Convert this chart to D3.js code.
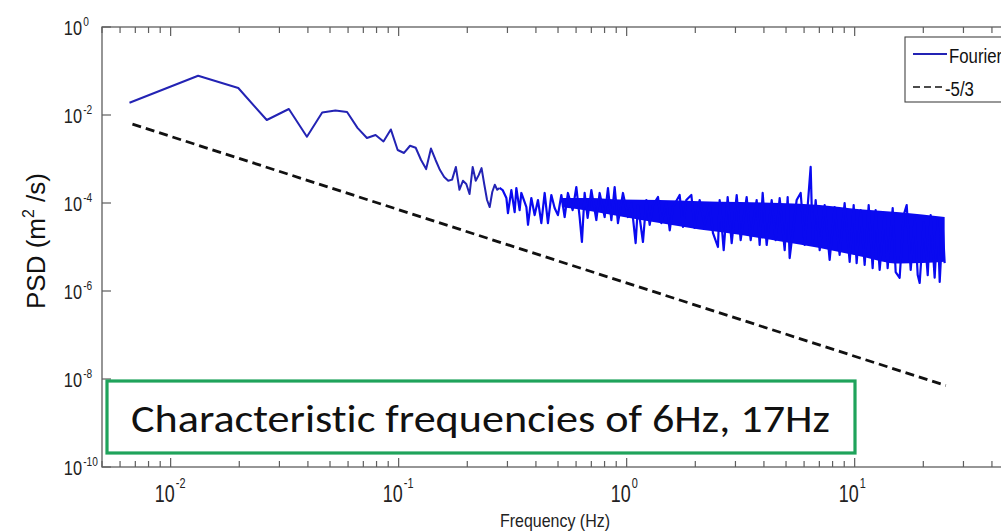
<!DOCTYPE html>
<html>
<head>
<meta charset="utf-8">
<script src="https://cdn.jsdelivr.net/npm/d3@7"></script>
<style>
body { margin: 0; background: #fff; }
svg { display: block; font-family: Arial, "Liberation Sans", sans-serif; }
</style>
</head>
<body>
<svg id="chart" width="1001" height="532"></svg>
<script>
"use strict";
(function(){

// Fourier spectrum (Hz, m^2/s)
var fourierFreq = [
  0.0066, 0.0132, 0.0198, 0.0264, 0.0330, 0.0396, 0.0462, 0.0528, 0.0594, 0.0660,
  0.0726, 0.0792, 0.0858, 0.0924, 0.0990, 0.1056, 0.1122, 0.1188, 0.1254, 0.1320,
  0.1386, 0.1452, 0.1518, 0.1584, 0.1650, 0.1716, 0.1782, 0.1848, 0.1914, 0.1980,
  0.2046, 0.2112, 0.2178, 0.2244, 0.2310, 0.2376, 0.2442, 0.2508, 0.2574, 0.2640,
  0.2706, 0.2772,
  0.2858, 0.2968, 0.3016, 0.3121, 0.3227, 0.3282, 0.3393, 0.3452, 0.3633, 0.3692,
  0.3819, 0.3949, 0.4083, 0.4225, 0.4369, 0.4516, 0.4674, 0.4832, 0.4996, 0.5170,
  0.5346, 0.5526, 0.5796, 0.6016, 0.6220, 0.6365, 0.6541, 0.6742, 0.7000, 0.7362,
  0.7612, 0.8007, 0.8279, 0.8568, 0.8858, 0.9158, 0.9634, 1.013, 1.049, 1.095,
  1.121, 1.179, 1.220, 1.262, 1.305, 1.372, 1.420, 1.494, 1.545, 1.596,
  1.708, 1.766, 1.827, 1.922, 1.987, 2.090, 2.198, 2.312, 2.390, 2.514,
  2.558, 2.664, 2.773, 2.888, 3.038, 3.162, 3.360, 3.499, 3.717, 3.831,
  3.949, 4.112, 4.325, 4.503, 4.689, 4.932, 5.083, 5.186, 5.567, 5.797,
  6.036, 6.412, 6.543, 6.744, 7.023, 7.385, 7.767, 8.168, 8.591, 9.035,
  9.508, 9.899, 10.20, 10.62, 11.06, 11.52, 11.99, 12.36, 12.87, 13.54,
  13.95, 14.68, 15.13, 15.75, 16.40, 16.91, 17.61, 18.34, 18.90, 19.28,
  20.08, 20.91, 21.54, 22.43, 23.12, 23.60, 24.32, 24.81
];
var fourierPsd = [
  1.9e-2, 7.8e-2, 4.1e-2, 7.7e-3, 1.37e-2, 3.2e-3, 1.14e-2, 1.26e-2, 1.17e-2, 5.1e-3,
  3.0e-3, 3.5e-3, 2.5e-3, 4.7e-3, 1.6e-3, 1.37e-3, 2.0e-3, 1.8e-3, 9.5e-4, 5.9e-4,
  1.73e-3, 9.5e-4, 5.6e-4, 3.9e-4, 3.2e-4, 3.4e-4, 6.6e-4, 2.0e-4, 3.2e-4, 2.7e-4,
  1.6e-4, 6.6e-4, 3.2e-4, 4.3e-4, 6.2e-4, 2.6e-4, 1.17e-4, 8.1e-5, 1.78e-4, 2.6e-4,
  2.0e-4, 2.2e-4,
  1.97e-4, 1.30e-4, 5.9e-5, 1.97e-4, 6.2e-5, 2.19e-4, 6.9e-5, 1.69e-4, 8.1e-5, 3.2e-5,
  1.30e-4, 5.3e-5, 1.17e-4, 3.5e-5, 1.69e-4, 3.5e-5, 1.52e-4, 7.7e-5, 5.3e-5, 1.52e-4,
  4.8e-5, 1.69e-4, 6.9e-5, 2.31e-4, 4.8e-5, 1.30e-5, 1.69e-4, 4.6e-5, 1.97e-4, 4.1e-5,
  1.69e-4, 4.8e-5, 2.19e-4, 4.1e-5, 2.31e-4, 3.5e-5, 1.69e-4, 4.8e-5, 1.0e-4, 1.23e-5,
  9.0e-5, 1.30e-5, 1.17e-4, 3.2e-5, 9.0e-5, 1.37e-4, 3.5e-5, 1.05e-4, 2.4e-5, 8.1e-5,
  1.52e-4, 2.85e-5, 1.17e-4, 1.52e-4, 2.7e-5, 1.17e-4, 3.2e-5, 9.0e-5, 2.1e-5, 1.0e-5,
  1.17e-4, 8.5e-6, 1.37e-4, 1.23e-5, 1.52e-4, 1.44e-5, 1.37e-4, 1.44e-5, 1.17e-4, 1.11e-5,
  1.69e-4, 1.11e-5, 1.17e-4, 1.44e-5, 1.30e-4, 8.5e-6, 1.37e-4, 5.6e-6, 1.17e-4, 1.69e-4,
  1.11e-5, 6.6e-4, 1.23e-5, 1.17e-4, 8.5e-6, 9.0e-5, 5.1e-6, 8.1e-5, 6.6e-6, 1.0e-4,
  4.6e-6, 9.0e-5, 4.3e-6, 6.9e-5, 3.9e-6, 9.0e-5, 3.3e-6, 6.9e-5, 3.0e-6, 5.9e-5,
  3.3e-6, 7.7e-5, 2.7e-6, 2.0e-6, 5.3e-5, 9.0e-5, 3.0e-6, 4.6e-5, 2.3e-6, 1.52e-6,
  3.7e-5, 2.3e-6, 5.3e-5, 2.0e-6, 4.1e-5, 1.6e-6, 3.2e-5, 4.3e-6
];
var sparseCount = 42; // points that are still drawn as a single thin trace

// the solid core of the dense part of the spectrum
var coreFreq = [0.52, 0.70, 0.9318, 1.395, 2.090, 3.130, 4.689, 7.023, 10.52, 15.75, 24.81];
var coreHi = [1.3e-4, 1.3e-4, 1.2e-4, 1.17e-4, 1.1e-4, 1.05e-4, 1.0e-4, 9.0e-5, 7.2e-5, 6.2e-5, 4.8e-5];
var coreLo = [8.0e-5, 6.5e-5, 5.0e-5, 3.5e-5, 2.5e-5, 1.9e-5, 1.35e-5, 9.5e-6, 6.2e-6, 4.2e-6, 4.6e-6];

// -5/3 reference line
var slopeFreq = [0.0068, 25.1];
var slopePsd = [6.2e-3, 7.1e-9];

var xTickExp = [-2, -1, 0, 1];
var yTickExp = [0, -2, -4, -6, -8, -10];
var legendNames = ['Fourier', '-5/3'];
var note = 'Characteristic frequencies  of 6Hz, 17Hz';

var left = 102, top = 27, right = 1010, bottom = 467;
var axisColor = '#5e5e5e';
var navy = '#2323b4';
var blue = '#0a0af0';

var x = d3.scaleLog().domain([0.005, 48]).range([left, right]);
var y = d3.scaleLog().domain([1e-10, 1]).range([bottom, top]);

var svg = d3.select('#chart');

svg.append('rect')
   .attr('width', 1001).attr('height', 532).attr('fill', '#fff');

svg.append('defs').append('clipPath').attr('id', 'plotclip')
   .append('rect')
   .attr('x', left).attr('y', top)
   .attr('width', right - left).attr('height', bottom - top);

var plot = svg.append('g').attr('clip-path', 'url(#plotclip)');

var line = d3.line()
    .x(function(d){ return x(d[0]); })
    .y(function(d){ return y(d[1]); });

// dense core
var core = coreFreq.map(function(f, i){ return [f, coreHi[i], coreLo[i]]; });
plot.append('path')
    .datum(core)
    .attr('fill', blue)
    .attr('d', d3.area()
        .curve(d3.curveMonotoneX)
        .x(function(d){ return x(d[0]); })
        .y0(function(d){ return y(d[2]); })
        .y1(function(d){ return y(d[1]); }));

var spectrum = fourierFreq.map(function(f, i){ return [f, fourierPsd[i]]; });
plot.append('path')
    .datum(spectrum.slice(sparseCount - 1))
    .attr('fill', 'none')
    .attr('stroke', blue)
    .attr('stroke-width', 2.2)
    .attr('stroke-linejoin', 'round')
    .attr('d', line);
plot.append('path')
    .datum(spectrum.slice(0, sparseCount))
    .attr('fill', 'none')
    .attr('stroke', navy)
    .attr('stroke-width', 2)
    .attr('stroke-linejoin', 'round')
    .attr('d', line);

var slope = slopeFreq.map(function(f, i){ return [f, slopePsd[i]]; });
plot.append('path')
    .datum(slope)
    .attr('fill', 'none')
    .attr('stroke', '#111')
    .attr('stroke-width', 2.8)
    .attr('stroke-dasharray', '9,5')
    .attr('d', line);

// axes box
svg.append('rect')
   .attr('x', left).attr('y', top)
   .attr('width', right - left).attr('height', bottom - top)
   .attr('fill', 'none')
   .attr('stroke', axisColor)
   .attr('stroke-width', 1.3);

// x ticks (bottom and top, pointing inward)
x.ticks().forEach(function(t){
  var major = Math.abs(Math.log10(t) - Math.round(Math.log10(t))) < 1e-9;
  var len = major ? 9 : 6;
  svg.append('line')
     .attr('x1', x(t)).attr('x2', x(t))
     .attr('y1', bottom).attr('y2', bottom - len)
     .attr('stroke', axisColor).attr('stroke-width', 1.2);
  svg.append('line')
     .attr('x1', x(t)).attr('x2', x(t))
     .attr('y1', top).attr('y2', top + len)
     .attr('stroke', axisColor).attr('stroke-width', 1.2);
});

// y ticks
yTickExp.forEach(function(e){
  svg.append('line')
     .attr('x1', left).attr('x2', left + 9)
     .attr('y1', y(Math.pow(10, e))).attr('y2', y(Math.pow(10, e)))
     .attr('stroke', axisColor).attr('stroke-width', 1.2);
});

// power-of-ten labels, narrow like the original
function powerLabel(px, py, exp, size, supSize, supDy){
  var g = svg.append('g')
             .attr('transform', 'translate(' + px + ',' + py + ') scale(0.78,1)');
  g.append('text')
   .attr('text-anchor', 'end')
   .attr('font-size', size)
   .attr('fill', '#222')
   .text('10');
  g.append('text')
   .attr('x', 1.5)
   .attr('y', supDy)
   .attr('font-size', supSize)
   .attr('fill', '#222')
   .text(exp);
}

xTickExp.forEach(function(e){
  powerLabel(x(Math.pow(10, e)) + 4, 502, e, 23, 14, -14);
});
yTickExp.forEach(function(e){
  powerLabel(82, y(Math.pow(10, e)) + 8, e, 21, 13, -9);
});

// axis titles
svg.append('text')
   .attr('x', 555).attr('y', 527)
   .attr('text-anchor', 'middle')
   .attr('font-size', 19)
   .attr('textLength', 110)
   .attr('lengthAdjust', 'spacingAndGlyphs')
   .attr('fill', '#222')
   .text('Frequency (Hz)');

var yl = svg.append('text')
   .attr('transform', 'translate(45,241) rotate(-90)')
   .attr('text-anchor', 'middle')
   .attr('font-size', 26)
   .attr('fill', '#111');
yl.append('tspan').text('PSD (m');
yl.append('tspan').attr('dy', -11).attr('font-size', 16).text('2');
yl.append('tspan').attr('dy', 11).text(' /s)');

// legend
var lg = svg.append('g');
lg.append('rect')
  .attr('x', 905).attr('y', 37)
  .attr('width', 200).attr('height', 65)
  .attr('fill', '#fff')
  .attr('stroke', '#444')
  .attr('stroke-width', 1.1);
lg.append('line')
  .attr('x1', 913).attr('x2', 947).attr('y1', 54).attr('y2', 54)
  .attr('stroke', navy).attr('stroke-width', 2);
lg.append('line')
  .attr('x1', 913).attr('x2', 944).attr('y1', 87).attr('y2', 87)
  .attr('stroke', '#111').attr('stroke-width', 1.6)
  .attr('stroke-dasharray', '7,4');
legendNames.forEach(function(name, i){
  lg.append('g')
    .attr('transform', 'translate(' + (i === 0 ? 949 : 945) + ',' + (i === 0 ? 63 : 96) + ') scale(0.8,1)')
    .append('text')
    .attr('font-size', 21)
    .attr('fill', '#111')
    .text(name);
});

// annotation box
svg.append('rect')
   .attr('x', 107).attr('y', 381)
   .attr('width', 748).attr('height', 72)
   .attr('fill', '#fff')
   .attr('stroke', '#1fa35b')
   .attr('stroke-width', 3.2);
svg.append('text')
   .attr('x', 131).attr('y', 432)
   .attr('font-family', 'Calibri, Carlito, Lato, "Open Sans", sans-serif')
   .attr('font-size', 38)
   .attr('font-weight', 300)
   .attr('textLength', 699)
   .attr('lengthAdjust', 'spacingAndGlyphs')
   .style('font-variant-ligatures', 'none')
   .attr('fill', '#111')
   .text(note);

})();
</script>
</body>
</html>
